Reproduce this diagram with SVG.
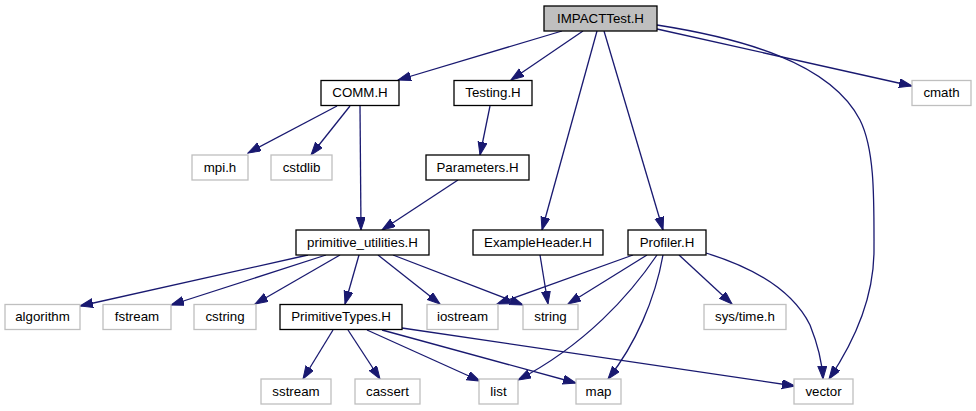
<svg xmlns="http://www.w3.org/2000/svg" width="976" height="411" viewBox="0 0 976 411">
  <style>
    .bg { fill: #ffffff; }
    .node rect { fill: #ffffff; stroke: #000000; stroke-width: 1.3; }
    .node.root rect { fill: #bfbfbf; stroke: #000000; }
    .node.ext rect { stroke: #bfbfbf; }
    .node text { font-family: "Liberation Sans", Arial, Helvetica, sans-serif; font-size: 13.3px; fill: #000000; text-anchor: middle; }
    .edges path { fill: none; stroke: #191970; stroke-width: 1.3; marker-end: url(#arrow); }
  </style>
  <defs>
    <marker id="arrow" markerUnits="userSpaceOnUse" markerWidth="14" markerHeight="10" refX="13" refY="4.5" orient="auto">
      <path d="M0,0 L13,4.5 L0,9 z" fill="#191970" stroke="#191970" stroke-width="1"/>
    </marker>
  </defs>
  <rect class="bg" x="0" y="0" width="976" height="411"/>

  <!-- include edges -->
  <g id="edges" class="edges">
    <path d="M562,31 L398,80"/>
    <path d="M583,31 L511,80"/>
    <path d="M597,31 L542,230"/>
    <path d="M604,31 L663,230"/>
    <path d="M657,29 L912,86"/>
    <path d="M657,25 C740,38 830,62 860,120 C875,150 874,200 874,250 C874,300 852,345 829,379"/>
    <path d="M337,106 L248,153"/>
    <path d="M350,106 L311,155"/>
    <path d="M360,106 L361,230"/>
    <path d="M490,106 L480,155"/>
    <path d="M458,180 L382,230"/>
    <path d="M540,255 L548,304"/>
    <path d="M308,255 L80,306"/>
    <path d="M326,255 L171,305"/>
    <path d="M340,255 L255,304"/>
    <path d="M359,255 L345,304"/>
    <path d="M378,255 L440,304"/>
    <path d="M393,255 L523,305"/>
    <path d="M633,255 L497,304"/>
    <path d="M647,255 L568,304"/>
    <path d="M657,255 C630,295 585,345 518,380"/>
    <path d="M663,255 C655,300 635,345 608,379"/>
    <path d="M679,255 L732,304"/>
    <path d="M706,253 C745,265 790,285 810,325 C818,345 822,360 823,379"/>
    <path d="M333,330 L303,379"/>
    <path d="M348,330 L380,379"/>
    <path d="M367,330 L480,381"/>
    <path d="M382,330 L576,383"/>
    <path d="M402,328 L795,386"/>
  </g>

  <!-- headers -->
  <g id="node-IMPACTTest" class="node root"><rect x="544" y="6" width="113" height="25"/><text x="600.5" y="22.5">IMPACTTest.H</text></g>
  <g id="node-COMM" class="node"><rect x="321" y="80.5" width="78" height="25"/><text x="360" y="97">COMM.H</text></g>
  <g id="node-Testing" class="node"><rect x="454" y="80.5" width="78" height="25"/><text x="493" y="97">Testing.H</text></g>
  <g id="node-cmath" class="node ext"><rect x="912" y="80.5" width="59" height="25"/><text x="941.5" y="97">cmath</text></g>
  <g id="node-mpi" class="node ext"><rect x="192" y="155" width="56" height="25"/><text x="220" y="171.5">mpi.h</text></g>
  <g id="node-cstdlib" class="node ext"><rect x="271" y="155" width="61" height="25"/><text x="301.5" y="171.5">cstdlib</text></g>
  <g id="node-Parameters" class="node"><rect x="426" y="155" width="103" height="25"/><text x="477.5" y="171.5">Parameters.H</text></g>
  <g id="node-primitive_utilities" class="node"><rect x="296" y="230" width="133" height="25"/><text x="362.5" y="246.5">primitive_utilities.H</text></g>
  <g id="node-ExampleHeader" class="node"><rect x="473" y="230" width="130" height="25"/><text x="538" y="246.5">ExampleHeader.H</text></g>
  <g id="node-Profiler" class="node"><rect x="628" y="230" width="78" height="25"/><text x="667" y="246.5">Profiler.H</text></g>
  <g id="node-algorithm" class="node ext"><rect x="5" y="304.5" width="75" height="25"/><text x="42.5" y="321">algorithm</text></g>
  <g id="node-fstream" class="node ext"><rect x="103" y="304.5" width="68" height="25"/><text x="137" y="321">fstream</text></g>
  <g id="node-cstring" class="node ext"><rect x="194" y="304.5" width="62" height="25"/><text x="225" y="321">cstring</text></g>
  <g id="node-PrimitiveTypes" class="node"><rect x="280" y="304.5" width="122" height="25"/><text x="341" y="321">PrimitiveTypes.H</text></g>
  <g id="node-iostream" class="node ext"><rect x="427" y="304.5" width="71" height="25"/><text x="462.5" y="321">iostream</text></g>
  <g id="node-string" class="node ext"><rect x="523" y="304.5" width="55" height="25"/><text x="550.5" y="321">string</text></g>
  <g id="node-systime" class="node ext"><rect x="704" y="304.5" width="82" height="25"/><text x="745" y="321">sys/time.h</text></g>
  <g id="node-sstream" class="node ext"><rect x="261" y="379" width="70" height="25"/><text x="296" y="395.5">sstream</text></g>
  <g id="node-cassert" class="node ext"><rect x="355" y="379" width="65" height="25"/><text x="387.5" y="395.5">cassert</text></g>
  <g id="node-list" class="node ext"><rect x="479" y="379" width="39" height="25"/><text x="498.5" y="395.5">list</text></g>
  <g id="node-map" class="node ext"><rect x="576" y="379" width="45" height="25"/><text x="598.5" y="395.5">map</text></g>
  <g id="node-vector" class="node ext"><rect x="794" y="379" width="59" height="25"/><text x="823.5" y="395.5">vector</text></g>
</svg>
